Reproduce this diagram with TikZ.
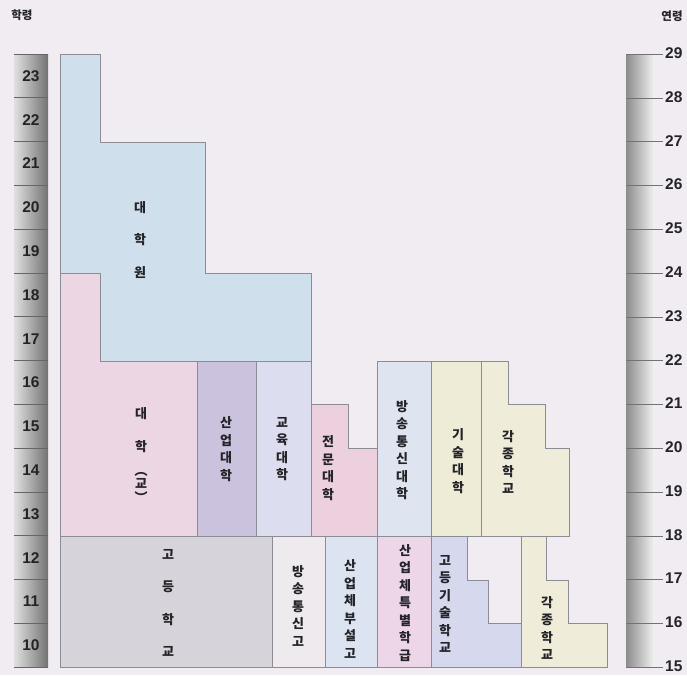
\documentclass[tikz,border=0pt]{standalone}
\usepackage{graphicx}
\usepackage{fontspec}
\setmainfont{Liberation Sans}
\newfontfamily\kr{Noto Sans CJK KR}

\definecolor{bgcol}{RGB}{240,236,242}
\definecolor{gradblue}{RGB}{207,224,236}
\definecolor{univpink}{RGB}{236,214,228}
\definecolor{induniv}{RGB}{203,195,221}
\definecolor{eduniv}{RGB}{220,222,240}
\definecolor{junior}{RGB}{236,208,222}
\definecolor{airuniv}{RGB}{222,228,240}
\definecolor{techuniv}{RGB}{238,236,214}
\definecolor{misccol}{RGB}{240,236,218}
\definecolor{highgray}{RGB}{214,212,218}
\definecolor{airhigh}{RGB}{238,234,238}
\definecolor{indhigh}{RGB}{220,228,242}
\definecolor{indclass}{RGB}{236,214,232}
\definecolor{techhigh}{RGB}{214,216,238}
\definecolor{edgegray}{RGB}{140,140,150}
\definecolor{ink}{RGB}{35,35,40}

\begin{document}
\begin{tikzpicture}[x=1pt,y=-1pt,
  box/.style={draw=edgegray,line width=0.7pt},
  narrow/.style={align=center,inner sep=0pt,text=ink,font=\kr\bfseries\fontsize{13}{17.5}\selectfont},
  wide/.style={align=center,inner sep=0pt,text=ink,font=\kr\bfseries\fontsize{13}{32.5}\selectfont},
  num/.style={inner sep=0pt,text=ink,font=\bfseries\fontsize{15.5}{15.5}\selectfont},
  head/.style={inner sep=0pt,text=ink,font=\kr\bfseries\fontsize{11.5}{11.5}\selectfont}]
\fill[bgcol] (0,0) rectangle (687,675);
\useasboundingbox (0,0) rectangle (687,675);

% grade scale on the left
\shade[left color=black!12,right color=black!55] (14,54) rectangle (48,667);
\foreach \g [count=\i from 0] in {23,22,...,10} {
  \draw[black!60,line width=0.8pt] (14,{54+\i*43.8}) -- (48,{54+\i*43.8});
  \node[num] (grade\g) at (31,{54+(\i+0.5)*43.8}) {\g};
}
\draw[black!60,line width=0.8pt] (14,667) -- (48,667);
\node[head] (gradehead) at (22,15) {학령};

% age scale on the right
\shade[left color=black!45,right color=black!4] (626,54) rectangle (655,667);
\foreach \a [count=\i from 0] in {29,28,...,15} {
  \draw[black!55,line width=0.6pt] (626,{54+\i*43.8}) -- (663,{54+\i*43.8});
  \node[num,anchor=west] (age\a) at (665,{53+\i*43.8}) {\a};
}
\node[head] (agehead) at (672,16) {연령};

% higher education
\filldraw[box,fill=gradblue] (60,54) -- (100,54) -- (100,142) -- (205,142) -- (205,273)
  -- (311,273) -- (311,361) -- (100,361) -- (100,273) -- (60,273) -- cycle;
\filldraw[box,fill=univpink] (60,273) -- (100,273) -- (100,361) -- (197,361) -- (197,536)
  -- (60,536) -- cycle;
\filldraw[box,fill=induniv] (197,361) rectangle (256,536);
\filldraw[box,fill=eduniv] (256,361) rectangle (311,536);
\filldraw[box,fill=junior] (311,404) -- (348,404) -- (348,448) -- (377,448) -- (377,536)
  -- (311,536) -- cycle;
\filldraw[box,fill=airuniv] (377,361) rectangle (431,536);
\filldraw[box,fill=techuniv] (431,361) rectangle (481,536);
\filldraw[box,fill=misccol] (481,361) -- (508,361) -- (508,404) -- (545,404) -- (545,448)
  -- (569,448) -- (569,536) -- (481,536) -- cycle;

% secondary education
\filldraw[box,fill=highgray] (60,536) rectangle (272,667);
\filldraw[box,fill=airhigh] (272,536) rectangle (325,667);
\filldraw[box,fill=indhigh] (325,536) rectangle (377,667);
\filldraw[box,fill=indclass] (377,536) rectangle (431,667);
\filldraw[box,fill=techhigh] (431,536) -- (467,536) -- (467,580) -- (488,580) -- (488,623)
  -- (521,623) -- (521,667) -- (431,667) -- cycle;
\filldraw[box,fill=misccol] (521,536) -- (546,536) -- (546,580) -- (568,580) -- (568,623)
  -- (607,623) -- (607,667) -- (521,667) -- cycle;

% labels
\node[wide] (grad) at (140,240) {대\\학\\원};
\node[wide] (univ) at (141,430) {대\\학};
\node[narrow,font=\kr\bfseries\fontsize{13}{13.5}\selectfont] (univsub) at (141,487)
  {︵\\교\\︶};
\node[narrow] (indu) at (226,449) {산\\업\\대\\학};
\node[narrow] (edu) at (282,449) {교\\육\\대\\학};
\node[narrow] (jr) at (328,468) {전\\문\\대\\학};
\node[narrow] (airu) at (402,450) {방\\송\\통\\신\\대\\학};
\node[narrow] (techu) at (458,461) {기\\술\\대\\학};
\node[narrow] (miscu) at (508,462) {각\\종\\학\\교};
\node[wide] (high) at (168,603) {고\\등\\학\\교};
\node[narrow] (airh) at (298,606) {방\\송\\통\\신\\고};
\node[narrow] (indh) at (350,609) {산\\업\\체\\부\\설\\고};
\node[narrow] (indc) at (405,603) {산\\업\\체\\특\\별\\학\\급};
\node[narrow] (techh) at (445,604) {고\\등\\기\\술\\학\\교};
\node[narrow] (misch) at (547,628) {각\\종\\학\\교};
\end{tikzpicture}
\end{document}
